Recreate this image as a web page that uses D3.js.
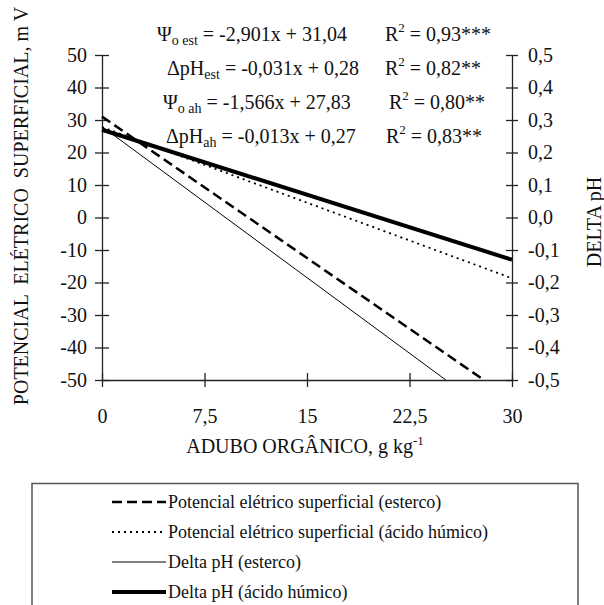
<!DOCTYPE html>
<html><head><meta charset="utf-8">
<script src="https://cdn.jsdelivr.net/npm/d3@7"></script>
<style>
body{margin:0;background:#fff;}
svg{display:block;}
svg text{font-family:"Liberation Serif","Times New Roman",serif;}
</style></head>
<body><svg id="c" width="604" height="605"></svg>
<script>
// ---- data ----
const xTicks = [0, 7.5, 15, 22.5, 30];
const xTickLabels = ["0", "7,5", "15", "22,5", "30"];
const yLeftTicks = [50, 40, 30, 20, 10, 0, -10, -20, -30, -40, -50];
const yLeftLabels = ["50","40","30","20","10","0","-10","-20","-30","-40","-50"];
const yRightTicks = [0.5, 0.4, 0.3, 0.2, 0.1, 0.0, -0.1, -0.2, -0.3, -0.4, -0.5];
const yRightLabels = ["0,5","0,4","0,3","0,2","0,1","0,0","-0,1","-0,2","-0,3","-0,4","-0,5"];

// line endpoints
const psiEstX = [0, 27.94];  const psiEstY = [31.04, -50];     // mV (left)
const psiAhX  = [0, 30];     const psiAhY  = [27.83, -18.7];   // mV (left)
const dphEstX = [0, 25.16];  const dphEstY = [0.28, -0.50];    // pH (right)
const dphAhX  = [0, 30];     const dphAhY  = [0.27, -0.13];    // pH (right)

const seriesNames = [
  "Potencial elétrico superficial (esterco)",
  "Potencial elétrico superficial (ácido húmico)",
  "Delta pH (esterco)",
  "Delta pH (ácido húmico)"
];

// ---- layout ----
const svg = d3.select("#c");
const FF = "Liberation Serif, Times New Roman, serif";
const x = d3.scaleLinear().domain([0, 30]).range([102, 512]);
const yL = d3.scaleLinear().domain([-50, 50]).range([380, 55]);
const yR = d3.scaleLinear().domain([-0.5, 0.5]).range([380, 55]);
const axisColor = "#222";

// axes
const gx = svg.append("g").attr("transform", `translate(0,${yL(-50)})`)
  .call(d3.axisBottom(x).tickValues(xTicks).tickFormat((d,i)=>xTickLabels[i]).tickSizeInner(7).tickSizeOuter(0).tickPadding(22));
gx.selectAll(".tick line").attr("y1", -7);
const gyl = svg.append("g").attr("transform", `translate(${x(0)},0)`)
  .call(d3.axisLeft(yL).tickValues(yLeftTicks).tickFormat((d,i)=>yLeftLabels[i]).tickSizeInner(7).tickSizeOuter(0).tickPadding(8));
gyl.selectAll(".tick line").attr("x1", 7);
const gyr = svg.append("g").attr("transform", `translate(${x(30)},0)`)
  .call(d3.axisRight(yR).tickValues(yRightTicks).tickFormat((d,i)=>yRightLabels[i]).tickSizeInner(6).tickSizeOuter(0).tickPadding(10));
gyr.selectAll(".tick line").attr("x1", -6);
[gx, gyl, gyr].forEach(g => {
  g.attr("font-family", FF).attr("font-size", 20);
  g.select(".domain").attr("stroke", axisColor).attr("stroke-width", 1.3);
  g.selectAll(".tick line").attr("stroke", axisColor).attr("stroke-width", 1.3);
  g.selectAll(".tick text").attr("font-family", FF).attr("font-size", 20).attr("fill", "#111");
});

// series
const styles = [
  {w: 2.5, dash: "10,5"},
  {w: 1.8, dash: "2,4"},
  {w: 1, dash: null},
  {w: 4, dash: null}
];
const series = [
  {xs: psiEstX, ys: psiEstY, y: yL},
  {xs: psiAhX,  ys: psiAhY,  y: yL},
  {xs: dphEstX, ys: dphEstY, y: yR},
  {xs: dphAhX,  ys: dphAhY,  y: yR}
];
series.forEach((s, i) => {
  const pts = s.xs.map((v, j) => [v, s.ys[j]]);
  const line = d3.line().x(d => x(d[0])).y(d => s.y(d[1]));
  svg.append("path").datum(pts).attr("d", line)
    .attr("fill", "none").attr("stroke", "#000")
    .attr("stroke-width", styles[i].w)
    .attr("stroke-dasharray", styles[i].dash);
});

// equations
const eqs = [
  {sym: "Ψ", sub: "o est", rest: " = -2,901x + 31,04", r2: "0,93***", x: 157, rx: 385},
  {sym: "ΔpH", sub: "est", rest: " = -0,031x + 0,28", r2: "0,82**", x: 167, rx: 385},
  {sym: "Ψ", sub: "o ah", rest: " = -1,566x + 27,83", r2: "0,80**", x: 163, rx: 389},
  {sym: "ΔpH", sub: "ah", rest: " = -0,013x + 0,27", r2: "0,83**", x: 166, rx: 386}
];
const eqBase = [41, 75, 109, 143];
eqs.forEach((e, i) => {
  const t = svg.append("text").attr("x", e.x).attr("y", eqBase[i]).attr("font-family", FF).attr("font-size", 20).attr("fill", "#111");
  t.append("tspan").text(e.sym);
  t.append("tspan").attr("font-size", 14).attr("dy", 4).text(e.sub);
  t.append("tspan").attr("dy", -4).text(e.rest);
  const r = svg.append("text").attr("x", e.rx).attr("y", eqBase[i]).attr("font-family", FF).attr("font-size", 20).attr("fill", "#111");
  r.append("tspan").text("R");
  r.append("tspan").attr("font-size", 13).attr("dy", -9).text("2");
  r.append("tspan").attr("dy", 9).text(" = " + e.r2);
});

// axis titles
svg.append("text").attr("x", 305).attr("y", 453).attr("text-anchor", "middle").attr("font-family", FF).attr("font-size", 20).attr("fill", "#111")
  .call(t => {
    t.append("tspan").text("ADUBO ORGÂNICO, g kg");
    t.append("tspan").attr("font-size", 13).attr("dy", -8).text("-1");
  });
svg.append("text").attr("transform", "translate(28,206) rotate(-90)").attr("text-anchor", "middle")
  .attr("font-family", FF).attr("font-size", 20).attr("fill", "#111").attr("xml:space", "preserve")
  .text("POTENCIAL  ELÉTRICO  SUPERFICIAL, m V");
svg.append("text").attr("transform", "translate(601,222) rotate(-90)").attr("text-anchor", "middle")
  .attr("font-family", FF).attr("font-size", 20).attr("fill", "#111").text("DELTA pH");

// legend
svg.append("path").attr("d", "M32,610 V483.5 H578 V610").attr("fill", "none").attr("stroke", "#555").attr("stroke-width", 1.5);
const legY = [502, 532, 562, 592];
seriesNames.forEach((n, i) => {
  svg.append("line").attr("x1", 112).attr("x2", 166).attr("y1", legY[i]).attr("y2", legY[i])
    .attr("stroke", "#000").attr("stroke-width", styles[i].w).attr("stroke-dasharray", styles[i].dash);
  svg.append("text").attr("x", 168).attr("y", legY[i] + 6).attr("font-family", FF).attr("font-size", 18).attr("fill", "#111").text(n);
});
</script></body></html>
